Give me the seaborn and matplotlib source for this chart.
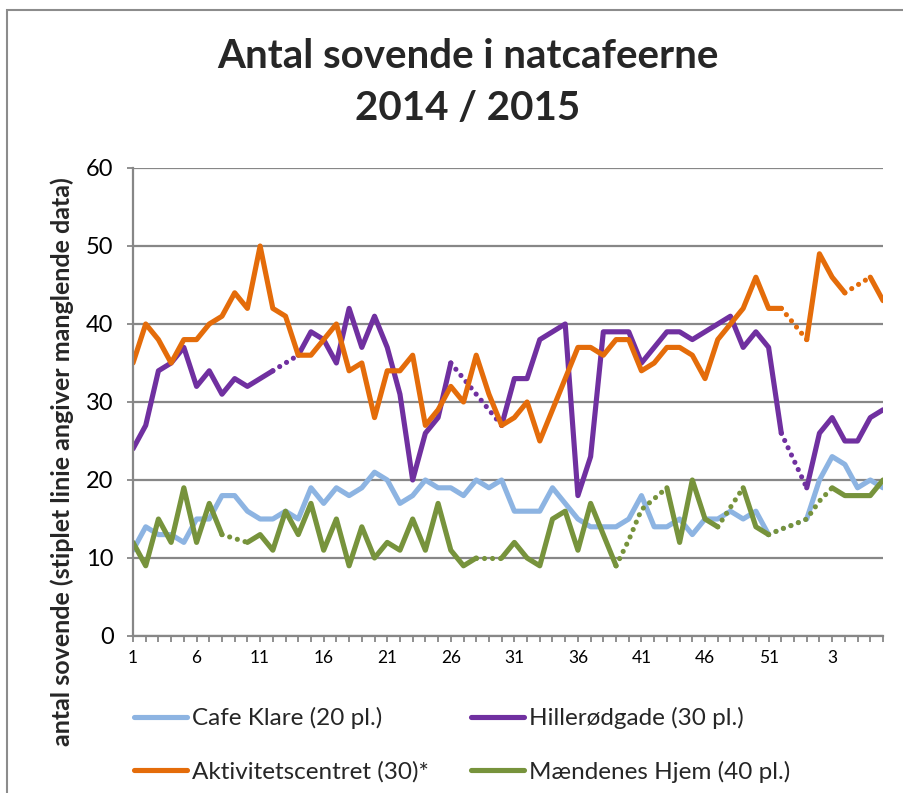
import numpy as np
import pandas as pd
import matplotlib
matplotlib.use("Agg")
import matplotlib.pyplot as plt
import seaborn as sns
from matplotlib.lines import Line2D
from matplotlib.patches import Rectangle

nan = np.nan

# ---- data ----
weeks = [str(w) for w in list(range(1, 54)) + list(range(1, 8))]

cafe_klare = [11, 14, 13, 13, 12, 15, 15, 18, 18, 16,
              15, 15, 16, 15, 19, 17, 19, 18, 19, 21,
              20, 17, 18, 20, 19, 19, 18, 20, 19, 20,
              16, 16, 16, 19, 17, 15, 14, 14, 14, 15,
              18, 14, 14, 15, 13, 15, 15, 16, 15, 16,
              13, nan, nan, 15, 20, 23, 22, 19, 20, 19]

hillerod = [24, 27, 34, 35, 37, 32, 34, 31, 33, 32,
            33, 34, nan, 36, 39, 38, 35, 42, 37, 41,
            37, 31, 20, 26, 28, 35, nan, nan, nan, 27,
            33, 33, 38, 39, 40, 18, 23, 39, 39, 39,
            35, 37, 39, 39, 38, 39, 40, 41, 37, 39,
            37, 26, nan, 19, 26, 28, 25, 25, 28, 29]

aktiv = [35, 40, 38, 35, 38, 38, 40, 41, 44, 42,
         50, 42, 41, 36, 36, 38, 40, 34, 35, 28,
         34, 34, 36, 27, 29, 32, 30, 36, 31, 27,
         28, 30, 25, 29, 33, 37, 37, 36, 38, 38,
         34, 35, 37, 37, 36, 33, 38, 40, 42, 46,
         42, 42, nan, 38, 49, 46, 44, nan, 46, 43]

maend = [12, 9, 15, 12, 19, 12, 17, 13, nan, 12,
         13, 11, 16, 13, 17, 11, 15, 9, 14, 10,
         12, 11, 15, 11, 17, 11, 9, 10, nan, 10,
         12, 10, 9, 15, 16, 11, 17, 13, 9, nan,
         nan, nan, 19, 12, 20, 15, 14, nan, 19, 14,
         13, nan, nan, nan, nan, 19, 18, 18, 18, 20]

# estimated (dotted) values bridging the missing weeks
cafe_klare_est = [nan] * 50 + [13, 13.7, 14.3, 15] + [nan] * 6

hillerod_est = ([nan] * 11 + [34, 35, 36] + [nan] * 11 + [35, 33, 31, 29, 27]
                + [nan] * 21 + [26, 22.5, 19] + [nan] * 6)

aktiv_est = [nan] * 51 + [42, 40, 38] + [nan] * 2 + [44, 45, 46] + [nan]

maend_est = ([nan] * 7 + [13, 12.5, 12] + [nan] * 17 + [10, 10, 10]
             + [nan] * 8 + [9, 12.3, 16.2, 17.6, 19] + [nan] * 3
             + [14, 16.5, 19] + [nan] + [13, 13.7, 14.3, 15, 17.3, 19] + [nan] * 4)

names = ["Cafe Klare (20 pl.)", "Hillerødgade (30 pl.)",
         "Aktivitetscentret (30)*", "Mændenes Hjem (40 pl.)"]
colors = ["#8DB4E2", "#7030A0", "#E46C0A", "#77933C"]
solid_series = [cafe_klare, hillerod, aktiv, maend]
est_series = [cafe_klare_est, hillerod_est, aktiv_est, maend_est]

# ---- style ----
sns.set_theme(style="white")
plt.rcParams["font.family"] = ["Lato", "DejaVu Sans"]

W, H = 904, 793
fig = plt.figure(figsize=(W / 100, H / 100), dpi=100)
ax = fig.add_axes([133 / W, 1 - 636 / H, 750 / W, 468 / H])

gray = "#878787"


def segment_frame(values):
    df = pd.DataFrame({"pos": np.arange(len(values)), "value": values})
    df["seg"] = df["value"].isna().cumsum()
    return df.dropna()


lw = 3.7
for vals, est, c in zip(solid_series, est_series, colors):
    d_est = segment_frame(est)
    if len(d_est):
        sns.lineplot(data=d_est, x="pos", y="value", units="seg", estimator=None,
                     color=c, lw=lw, linestyle=(0, (0.01, 1.55)),
                     dash_capstyle="round", ax=ax, legend=False)
    d = segment_frame(vals)
    sns.lineplot(data=d, x="pos", y="value", units="seg", estimator=None,
                 color=c, lw=lw, solid_joinstyle="round", solid_capstyle="round",
                 ax=ax, legend=False)

ax.set_xlim(0, len(weeks) - 1)
ax.set_ylim(0, 60)
ax.set_yticks(range(0, 61, 10))
ax.set_xticks(range(len(weeks)))
ax.set_xticklabels([w if i % 5 == 0 else "" for i, w in enumerate(weeks)])
ax.yaxis.grid(True, color=gray, lw=1.6)
ax.xaxis.grid(False)
ax.set_axisbelow(True)
for s in ["top", "right"]:
    ax.spines[s].set_visible(False)
for s in ["left", "bottom"]:
    ax.spines[s].set_color(gray)
    ax.spines[s].set_linewidth(1.6)
ax.tick_params(axis="x", direction="out", length=4, width=1.3, color=gray,
               labelsize=12.5, pad=6, labelcolor="black", bottom=True)
ax.tick_params(axis="y", direction="out", length=4, width=1.3, color=gray,
               labelsize=17, pad=10, labelcolor="black", left=True)
ax.set_xlabel("")
ax.set_ylabel("")

# y label (spans below the axes like the original)
fig.text(62 / W, 1 - 462 / H, "antal sovende (stiplet linie angiver manglende data)",
         rotation=90, ha="center", va="center", fontsize=18, fontweight="bold")

# title
fig.text(468 / W, 1 - 57 / H, "Antal sovende i natcafeerne", ha="center", va="center",
         fontsize=29, fontweight="bold")
fig.text(468 / W, 1 - 108 / H, "2014 / 2015", ha="center", va="center",
         fontsize=29, fontweight="bold")

# legend (row-wise order like the original: fill columns with reordered entries)
order = [0, 2, 1, 3]
handles = [Line2D([0], [0], color=colors[i], lw=lw, solid_capstyle="round") for i in order]
labels = [names[i] for i in order]
fig.legend(handles, labels, ncol=2, loc="upper left",
           bbox_to_anchor=(134 / W, 1 - 707 / H), frameon=False, fontsize=17.5,
           handlelength=2.2, handletextpad=0.2, labelspacing=1.3,
           columnspacing=1.7, borderaxespad=0, borderpad=0)

# chart border
fig.add_artist(Rectangle((7 / W, -0.05), 1.2, 1.05 - 10 / H, transform=fig.transFigure,
                         fill=False, edgecolor="#8c8c8c", lw=1.5))

fig.savefig("out.png", dpi=100)
